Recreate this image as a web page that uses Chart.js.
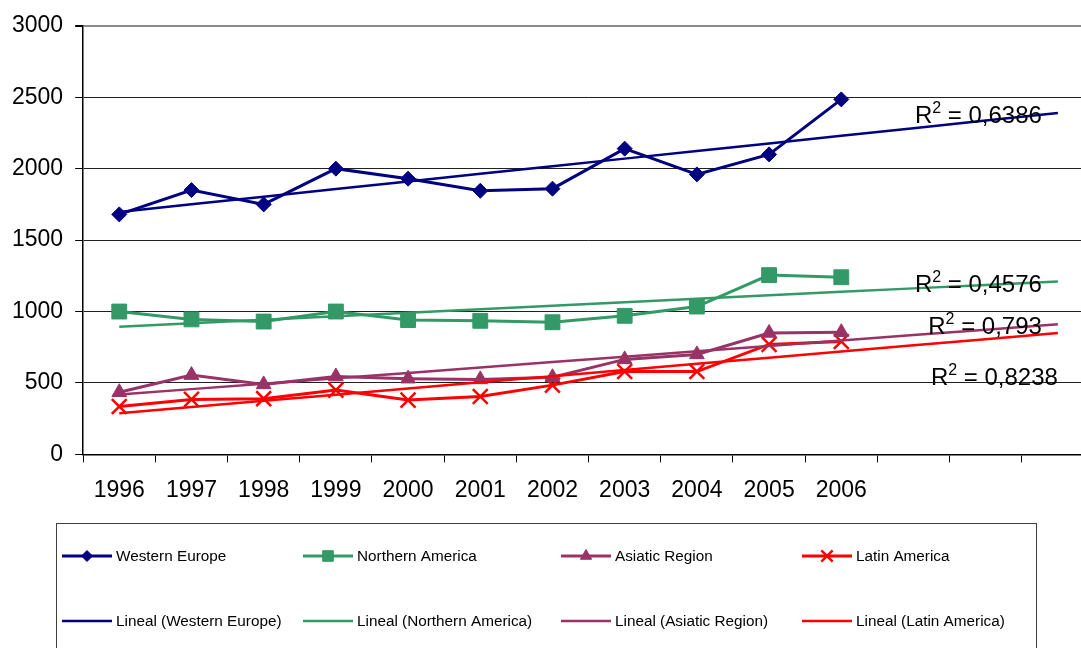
<!DOCTYPE html>
<html>
<head>
<meta charset="utf-8">
<script src="https://cdn.jsdelivr.net/npm/chart.js@4.4.1/dist/chart.umd.min.js"></script>
<style>
  html, body { margin: 0; padding: 0; background: #fff; overflow: hidden; }
  #wrap { width: 1107px; height: 648px; }
</style>
</head>
<body>
<div id="wrap"><canvas id="regionChart" width="1107" height="648"></canvas></div>
<script>
// years with data, plus three forecast periods for the trend lines
const years = ['1996', '1997', '1998', '1999', '2000', '2001', '2002', '2003', '2004', '2005', '2006'];
const forecastSlots = 3;

const westernEurope   = [1680, 1850, 1750, 2000, 1930, 1845, 1860, 2140, 1960, 2100, 2485];
const northernAmerica = [1000, 945, 930, 1000, 940, 935, 925, 970, 1035, 1255, 1240];
const asiaticRegion   = [435, 555, 490, 545, 530, 525, 540, 665, 700, 850, 855];
const latinAmerica    = [335, 385, 390, 450, 380, 405, 485, 580, 580, 770, 790];

const rSquared = ['0,6386', '0,4576', '0,793', '0,8238'];

const yTicks = [0, 500, 1000, 1500, 2000, 2500, 3000];

const FONT = "'Liberation Sans', Arial, sans-serif";

// least squares line over the data, extended into the forecast slots
function linearTrend(values) {
    const n = values.length;
    let sx = 0, sy = 0, sxy = 0, sxx = 0;
    values.forEach((v, i) => { sx += i; sy += v; sxy += i * v; sxx += i * i; });
    const slope = (n * sxy - sx * sy) / (n * sxx - sx * sx);
    const icpt = (sy - slope * sx) / n;
    const out = [];
    for (let i = 0; i < n + forecastSlots; i++) out.push(icpt + slope * i);
    return out;
}

const labels = years.concat(Array(forecastSlots).fill(''));

const series = [
    { name: 'Western Europe',   data: westernEurope,   color: '#000080', style: 'rectRot',  r: 7.5,  lr: 5.5 },
    { name: 'Northern America', data: northernAmerica, color: '#339966', style: 'rect',     r: 10.5, lr: 7.5 },
    { name: 'Asiatic Region',   data: asiaticRegion,   color: '#993366', style: 'triangle', r: 8.5,  lr: 6.5 },
    { name: 'Latin America',    data: latinAmerica,    color: '#FF0000', style: 'crossRot', r: 10.5, lr: 8 }
];

const datasets = [];
series.forEach(s => {
    datasets.push({
        label: s.name,
        data: s.data,
        borderColor: s.color,
        backgroundColor: s.color,
        borderWidth: 3,
        pointStyle: s.style,
        pointRadius: s.r,
        pointHoverRadius: s.r,
        pointBorderWidth: s.style === 'crossRot' ? 2.5 : 1,
        legendRadius: s.lr,
        tension: 0,
        order: 2
    });
});
series.forEach(s => {
    datasets.push({
        label: 'Lineal (' + s.name + ')',
        data: linearTrend(s.data),
        borderColor: s.color,
        backgroundColor: s.color,
        borderWidth: 2.5,
        pointRadius: 0,
        pointHoverRadius: 0,
        pointStyle: false,
        tension: 0,
        order: 1
    });
});

// R² labels, placed relative to the end of each trend line
const r2Offsets = [
    { dx: -16, dy: 10 },
    { dx: -16, dy: 11 },
    { dx: -16, dy: 10 },
    { dx: 0,   dy: 52 }
];

const r2Labels = {
    id: 'r2Labels',
    afterDatasetsDraw(chart) {
        const ctx = chart.ctx;
        const xs = chart.scales.x, ys = chart.scales.y;
        ctx.save();
        ctx.fillStyle = '#000';
        ctx.textBaseline = 'alphabetic';
        rSquared.forEach((val, i) => {
            const trend = chart.data.datasets[series.length + i].data;
            const last = trend.length - 1;
            const right = xs.getPixelForValue(last) + r2Offsets[i].dx;
            const base = ys.getPixelForValue(trend[last]) + r2Offsets[i].dy;
            ctx.font = '24px ' + FONT;
            const tail = ' = ' + val;
            const wTail = ctx.measureText(tail).width;
            const wR = ctx.measureText('R').width;
            ctx.font = '16px ' + FONT;
            const wSup = ctx.measureText('2').width;
            let x = right - wTail - wSup - wR;
            ctx.font = '24px ' + FONT;
            ctx.textAlign = 'left';
            ctx.fillText('R', x, base);
            ctx.font = '16px ' + FONT;
            ctx.fillText('2', x + wR, base - 10);
            ctx.font = '24px ' + FONT;
            ctx.fillText(tail, x + wR + wSup, base);
        });
        ctx.restore();
    }
};

// boxed legend under the chart, four columns by two rows
const boxLegend = {
    id: 'boxLegend',
    afterDraw(chart) {
        const ctx = chart.ctx;
        const cols = [62, 303, 561, 802];
        const rows = [556, 621];
        ctx.save();
        ctx.strokeStyle = '#404040';
        ctx.lineWidth = 1;
        ctx.strokeRect(56.5, 523.5, 980, 140);
        ctx.font = '15.3px ' + FONT;
        ctx.textBaseline = 'middle';
        ctx.textAlign = 'left';
        chart.data.datasets.forEach((ds, i) => {
            const x = cols[i % 4];
            const y = rows[Math.floor(i / 4)];
            ctx.strokeStyle = ds.borderColor;
            ctx.fillStyle = ds.backgroundColor;
            ctx.lineWidth = ds.borderWidth;
            ctx.beginPath();
            ctx.moveTo(x, y);
            ctx.lineTo(x + 50, y);
            ctx.stroke();
            if (ds.pointStyle) {
                ctx.lineWidth = ds.pointBorderWidth;
                Chart.helpers.drawPoint(ctx, {
                    pointStyle: ds.pointStyle,
                    radius: ds.legendRadius,
                    rotation: 0,
                    borderWidth: ds.pointBorderWidth
                }, x + 25, y);
            }
            ctx.fillStyle = '#000';
            ctx.fillText(ds.label, x + 54, y + 1);
        });
        ctx.restore();
    }
};

new Chart(document.getElementById('regionChart'), {
    type: 'line',
    data: { labels: labels, datasets: datasets },
    options: {
        responsive: false,
        animation: false,
        events: [],
        layout: { padding: { top: 13, left: 0, right: 6, bottom: 130 } },
        plugins: {
            legend: { display: false },
            tooltip: { enabled: false }
        },
        scales: {
            x: {
                type: 'category',
                offset: true,
                grid: {
                    offset: true,
                    drawOnChartArea: false,
                    drawTicks: true,
                    tickLength: 8,
                    color: '#000',
                    lineWidth: 1
                },
                border: { color: '#000', width: 1.5 },
                ticks: {
                    autoSkip: false,
                    maxRotation: 0,
                    padding: 14,
                    color: '#000',
                    font: { family: FONT, size: 23 }
                }
            },
            y: {
                min: 0,
                max: 3000,
                afterBuildTicks(scale) { scale.ticks = yTicks.map(v => ({ value: v })); },
                grid: {
                    color: c => c.tick && c.tick.value === 3000 ? '#8c8c8c' : '#202020',
                    lineWidth: c => c.tick && c.tick.value === 3000 ? 2 : 1,
                    tickColor: '#000',
                    tickLength: 8
                },
                border: { color: '#000', width: 1.5 },
                ticks: {
                    padding: 12,
                    color: '#000',
                    font: { family: FONT, size: 23 },
                    callback: v => String(v)
                }
            }
        }
    },
    plugins: [r2Labels, boxLegend]
});
</script>
</body>
</html>
